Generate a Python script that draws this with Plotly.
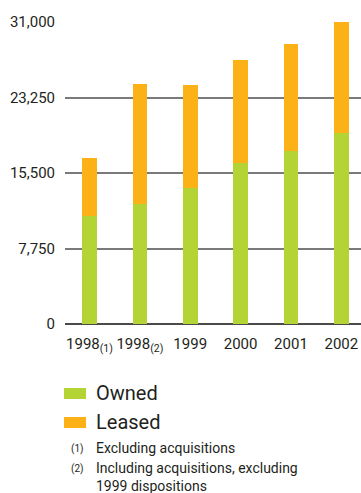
import plotly.graph_objects as go

categories = ["1998<sub>(1)</sub>", "1998<sub>(2)</sub>", "1999", "2000", "2001", "2002"]
owned = [11050, 12350, 13990, 16520, 17760, 19600]
leased = [5990, 12290, 10540, 10540, 10980, 11370]
y_ticks = [0, 7750, 15500, 23250, 31000]
y_tick_labels = ["0", "7,750", "15,500", "23,250", "31,000"]
series_names = ["Owned", "Leased"]
footnote_marks = ["(1)", "(2)"]
footnote_lines = [["Excluding acquisitions"],
                  ["Including acquisitions, excluding", "1999 dispositions"]]

GREEN = "#b4d334"
ORANGE = "#fcb116"
FONT = "Roboto"
TXT = "#231f20"

W, H = 361, 493
L, R, T, B = 65, 0, 22, 169
ph = H - T - B
pw = W - L - R

def py(p):
    return (H - B - p) / ph

def px(p):
    return (p - L) / pw

fig = go.Figure()
fig.add_bar(x=categories, y=owned, name=series_names[0], marker_color=GREEN,
            marker_line_width=0, width=0.29, showlegend=False)
fig.add_bar(x=categories, y=leased, name=series_names[1], marker_color=ORANGE,
            marker_line_width=0, width=0.29, showlegend=False)

fig.update_layout(
    barmode="stack",
    width=W, height=H,
    margin=dict(l=L, r=R, t=T, b=B),
    paper_bgcolor="white", plot_bgcolor="white",
    font=dict(family=FONT, color=TXT),
    xaxis=dict(type="category", range=[-0.486, 5.39], showgrid=False,
               showline=False, zeroline=False, ticks="", tickangle=0,
               ticklabelstandoff=9,
               tickfont=dict(size=15, family=FONT, color=TXT)),
    yaxis=dict(range=[0, 31000], tickvals=y_ticks, ticktext=y_tick_labels,
               showgrid=True, gridcolor="#7a7a7a", gridwidth=1.6,
               zeroline=True, zerolinecolor="#4a4a4a", zerolinewidth=1.6,
               showline=False, ticks="", ticklabelstandoff=9,
               tickfont=dict(size=15, family=FONT, color=TXT)),
)

# Legend (drawn manually to match rectangular swatches)
legend_rows = [(series_names[0], GREEN, 393.5), (series_names[1], ORANGE, 422.5)]
for name, col, yc in legend_rows:
    fig.add_shape(type="rect", xref="paper", yref="paper",
                  x0=px(64), x1=px(86), y0=py(yc + 5.5), y1=py(yc - 5.5),
                  fillcolor=col, line_width=0)
    fig.add_annotation(xref="paper", yref="paper", x=px(94), y=py(yc - 1),
                       text=name, showarrow=False, xanchor="left",
                       yanchor="middle", font=dict(size=20, family=FONT, color=TXT))

fy = [449, 469]
for mark, lines, yc in zip(footnote_marks, footnote_lines, fy):
    fig.add_annotation(xref="paper", yref="paper", x=px(86), y=py(yc),
                       text=mark, showarrow=False, xanchor="right",
                       yanchor="middle", font=dict(size=10, family=FONT, color=TXT))
    for i, line in enumerate(lines):
        fig.add_annotation(xref="paper", yref="paper", x=px(94),
                           y=py(yc - 1 + 18 * i), text=line, showarrow=False,
                           xanchor="left", yanchor="middle",
                           font=dict(size=14, family=FONT, color=TXT))

fig.write_html("out.html")
